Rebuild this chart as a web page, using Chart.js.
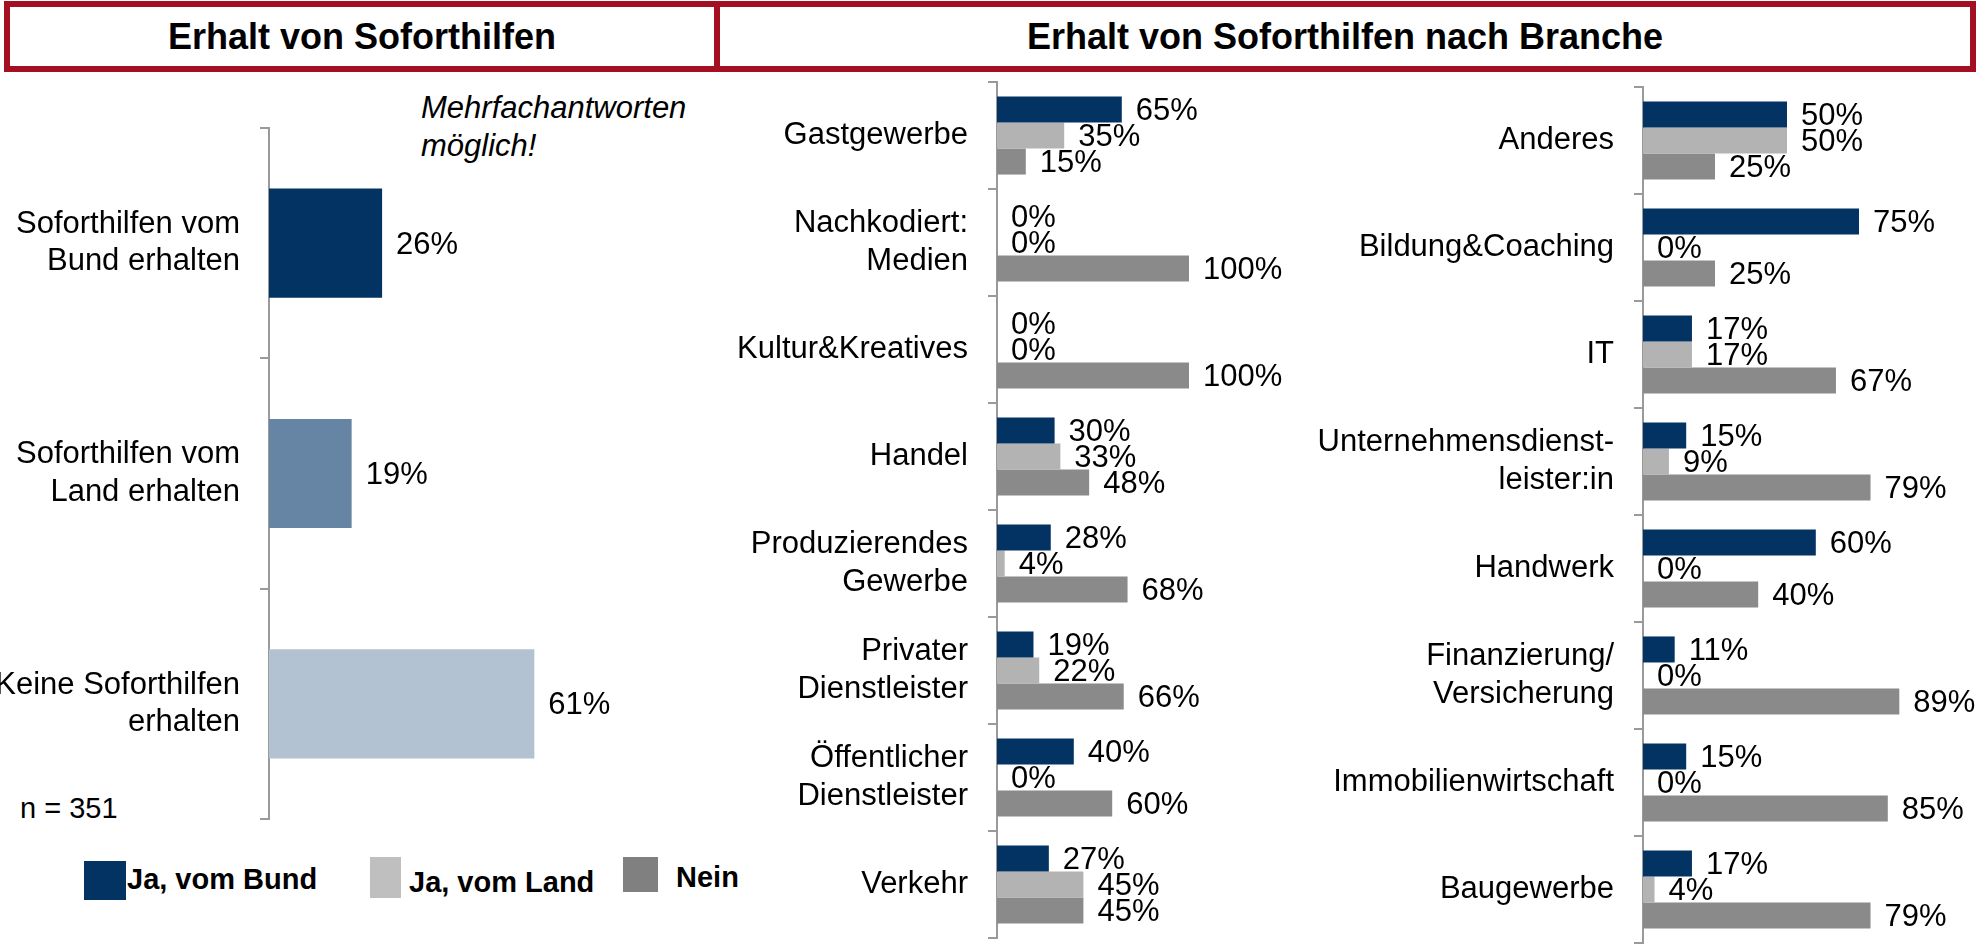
<!DOCTYPE html>
<html>
<head>
<meta charset="utf-8">
<script src="https://cdn.jsdelivr.net/npm/chart.js@4.4.0/dist/chart.umd.min.js"></script>
<style>
body { margin:0; width:1977px; height:947px; background:#fff; overflow:hidden; position:relative;
       font-family:"Liberation Sans", Arial, sans-serif; color:#000; }
.box { position:absolute; box-sizing:border-box; border:6px solid #A50F22; top:1px; height:71px;
       display:flex; align-items:center; justify-content:center; font-weight:bold; font-size:36px; }
.txt { position:absolute; font-size:31px; line-height:38px; white-space:nowrap; }
.sq { position:absolute; }
.leg { position:absolute; font-size:29px; font-weight:bold; white-space:nowrap; line-height:30px; }
canvas { position:absolute; }
</style>
</head>
<body>
<div class="box" style="left:4px;width:716px;">Erhalt von Soforthilfen</div>
<div class="box" style="left:714px;width:1262px;">Erhalt von Soforthilfen nach Branche</div>

<div class="txt" style="left:421px;top:89px;font-style:italic;">Mehrfachantworten<br>möglich!</div>
<div class="txt" style="left:20px;top:789px;font-size:29px;">n = 351</div>

<div class="sq" style="left:84px;top:861px;width:42px;height:39px;background:#033363;"></div>
<div class="leg" style="left:127px;top:864px;">Ja, vom Bund</div>
<div class="sq" style="left:370px;top:857px;width:31px;height:41px;background:#BFBFBF;"></div>
<div class="leg" style="left:409px;top:867px;">Ja, vom Land</div>
<div class="sq" style="left:623px;top:857px;width:35px;height:35px;background:#808080;"></div>
<div class="leg" style="left:676px;top:862px;">Nein</div>

<canvas id="leftChart" width="720" height="740" style="left:0px;top:100px;"></canvas>
<canvas id="midChart" width="600" height="890" style="left:720px;top:60px;"></canvas>
<canvas id="rightChart" width="677" height="887" style="left:1300px;top:60px;"></canvas>

<script>
// Erhalt von Soforthilfen (gesamt)
var leftCategories = [['Soforthilfen vom', 'Bund erhalten'], ['Soforthilfen vom', 'Land erhalten'], ['Keine Soforthilfen', 'erhalten']];
var leftValues = [26, 19, 61];

// nach Branche, linke Spalte
var midCategories = ['Gastgewerbe', ['Nachkodiert:', 'Medien'], 'Kultur&Kreatives', 'Handel',
    ['Produzierendes', 'Gewerbe'], ['Privater', 'Dienstleister'], ['Öffentlicher', 'Dienstleister'], 'Verkehr'];
var midBund = [65, 0, 0, 30, 28, 19, 40, 27];
var midLand = [35, 0, 0, 33, 4, 22, 0, 45];
var midNein = [15, 100, 100, 48, 68, 66, 60, 45];

// nach Branche, rechte Spalte
var rightCategories = ['Anderes', 'Bildung&Coaching', 'IT', ['Unternehmensdienst-', 'leister:in'], 'Handwerk',
    ['Finanzierung/', 'Versicherung'], 'Immobilienwirtschaft', 'Baugewerbe'];
var rightBund = [50, 75, 17, 15, 60, 11, 15, 17];
var rightLand = [50, 0, 17, 9, 0, 0, 0, 4];
var rightNein = [25, 25, 67, 79, 40, 89, 85, 79];

var seriesNames = ['Ja, vom Bund', 'Ja, vom Land', 'Nein'];

var FONT = '"Liberation Sans", Arial, sans-serif';

// Prozentwerte rechts neben die Balken schreiben
var valueLabels = {
    id: 'valueLabels',
    afterDatasetsDraw: function(chart) {
        var ctx = chart.ctx;
        ctx.save();
        ctx.font = '31px ' + FONT;
        ctx.fillStyle = '#000';
        ctx.textBaseline = 'middle';
        ctx.textAlign = 'left';
        chart.data.datasets.forEach(function(ds, i) {
            chart.getDatasetMeta(i).data.forEach(function(bar, j) {
                ctx.fillText(ds.data[j] + '%', bar.x + 14, bar.y + 2);
            });
        });
        ctx.restore();
    }
};

function makeChart(id, labels, datasets, axisWidth, pad, catPct) {
    return new Chart(document.getElementById(id), {
        type: 'bar',
        data: { labels: labels, datasets: datasets },
        plugins: [valueLabels],
        options: {
            indexAxis: 'y',
            responsive: false,
            devicePixelRatio: 1,
            animation: false,
            layout: { padding: pad },
            datasets: { bar: { categoryPercentage: catPct, barPercentage: 1 } },
            plugins: { legend: { display: false }, tooltip: { enabled: false } },
            scales: {
                x: { display: false, min: 0, max: 100 },
                y: {
                    // feste Breite, und keine Extra-Polsterung oben/unten fuer die Beschriftung
                    afterFit: function(scale) {
                        scale.width = axisWidth;
                        scale.paddingTop = 0;
                        scale.paddingBottom = 0;
                    },
                    grid: { display: true, drawOnChartArea: false, drawTicks: true, tickLength: 9,
                            color: '#9A9A9A', lineWidth: 2, offset: true },
                    border: { display: true, color: '#9A9A9A', width: 2 },
                    ticks: { autoSkip: false, padding: 20, color: '#000',
                             font: { family: FONT, size: 31, lineHeight: 1.2 } }
                }
            }
        }
    });
}

function branchSets(bund, land, nein) {
    return [
        { label: seriesNames[0], data: bund, backgroundColor: '#033363' },
        { label: seriesNames[1], data: land, backgroundColor: '#B3B3B3' },
        { label: seriesNames[2], data: nein, backgroundColor: '#8A8A8A' }
    ];
}

makeChart('leftChart', leftCategories,
    [{ label: 'Anteil', data: leftValues, backgroundColor: ['#033363', '#6685A4', '#B2C2D3'] }],
    269, { top: 28, bottom: 21, left: 0, right: 16 }, 0.474);

makeChart('midChart', midCategories, branchSets(midBund, midLand, midNein),
    277, { top: 22, bottom: 12, left: 0, right: 131 }, 0.73);

makeChart('rightChart', rightCategories, branchSets(rightBund, rightLand, rightNein),
    343, { top: 27, bottom: 4, left: 0, right: 46 }, 0.73);
</script>
</body>
</html>
